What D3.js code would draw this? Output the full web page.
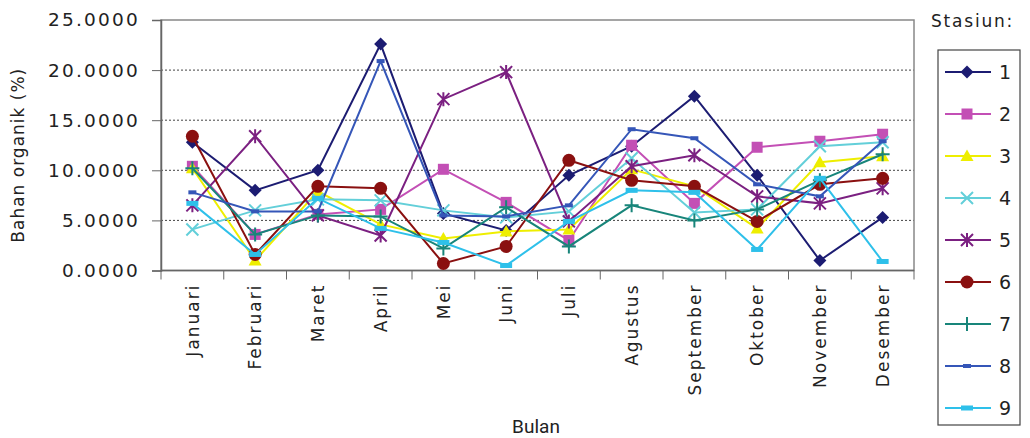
<!DOCTYPE html>
<html>
<head>
<meta charset="utf-8">
<script src="https://cdn.jsdelivr.net/npm/d3@7"></script>
<style>
  body { margin: 0; background: #fff; }
  text { font-family: "DejaVu Sans", sans-serif; fill: #222; }
</style>
</head>
<body>
<div id="chart"></div>
<script>
// data
const months = ["Januari", "Februari", "Maret", "April", "Mei", "Juni", "Juli",
  "Agustus", "September", "Oktober", "November", "Desember"];
const stations = ["1", "2", "3", "4", "5", "6", "7", "8", "9"];
const yTicks = [0, 5, 10, 15, 20, 25];

const s1 = [12.8, 8.0, 10.0, 22.6, 5.7, 4.0, 9.5, 12.4, 17.4, 9.5, 1.0, 5.3];
const s2 = [10.4, 3.6, 5.6, 6.1, 10.1, 6.8, 3.0, 12.5, 6.7, 12.3, 12.9, 13.6];
const s3 = [10.2, 1.0, 7.9, 4.6, 3.2, 3.9, 4.1, 10.1, 8.4, 4.2, 10.8, 11.4];
const s4 = [4.1, 6.0, 7.1, 7.0, 6.0, 5.3, 5.9, 11.2, 5.8, 6.1, 12.4, 12.8];
const s5 = [6.5, 13.4, 5.5, 3.5, 17.1, 19.8, 4.9, 10.4, 11.5, 7.4, 6.7, 8.2];
const s6 = [13.4, 1.6, 8.4, 8.2, 0.7, 2.4, 11.0, 9.0, 8.4, 4.9, 8.6, 9.2];
const s7 = [10.2, 3.6, 5.5, 5.4, 2.2, 6.3, 2.4, 6.5, 5.0, 6.1, 9.0, 11.6];
const s8 = [7.8, 5.9, 5.9, 20.9, 5.5, 5.4, 6.5, 14.1, 13.2, 8.6, 7.4, 12.9];
const s9 = [6.7, 1.6, 7.2, 4.2, 2.8, 0.5, 4.9, 8.0, 7.8, 2.1, 9.2, 0.9];
const seriesValues = [s1, s2, s3, s4, s5, s6, s7, s8, s9];

const colors = ["#1c1c72", "#c34fb5", "#eeee00", "#63cfd9", "#7b2081",
  "#8a1010", "#18857a", "#3556b8", "#2ec0ea"];
const shapes = ["diamond", "square", "triangle", "x", "asterisk",
  "circle", "plus", "dash", "wide"];

const width = 1030, height = 438;
const margin = { top: 20, right: 116, bottom: 168, left: 161 };

const svg = d3.select("#chart").append("svg")
  .attr("width", width).attr("height", height);

const x = d3.scaleBand()
  .domain(months)
  .range([margin.left, width - margin.right]);

const y = d3.scaleLinear()
  .domain([0, 25])
  .range([height - margin.bottom + 0.5, margin.top]);

// grid
svg.append("g")
  .selectAll("line")
  .data(yTicks.filter(d => d > 0 && d < 25))
  .join("line")
  .attr("x1", margin.left).attr("x2", width - margin.right)
  .attr("y1", d => y(d)).attr("y2", d => y(d))
  .attr("stroke", "#444").attr("stroke-width", 1)
  .attr("stroke-dasharray", "2,2");

// plot border
svg.append("rect")
  .attr("x", margin.left).attr("y", y(25))
  .attr("width", width - margin.right - margin.left)
  .attr("height", y(0) - y(25))
  .attr("fill", "none").attr("stroke", "#888").attr("stroke-width", 1.5);

// y axis
const yAxis = svg.append("g")
  .attr("transform", `translate(${margin.left},0)`)
  .call(d3.axisLeft(y).tickValues(yTicks).tickFormat(d3.format(".4f")).tickSize(9).tickPadding(12));
yAxis.select(".domain").attr("stroke", "#666").attr("stroke-width", 1.5);
yAxis.selectAll(".tick line").attr("stroke", "#666");
yAxis.selectAll("text")
  .style("font-size", "18.5px").style("letter-spacing", "2.2px")
  .attr("fill", "#222");

// x axis: ticks at category boundaries
const xAxis = svg.append("g")
  .attr("transform", `translate(0,${y(0)})`);
xAxis.append("line")
  .attr("x1", margin.left).attr("x2", width - margin.right)
  .attr("stroke", "#666").attr("stroke-width", 1.5);
xAxis.selectAll(".bt")
  .data(months.concat(["end"]))
  .join("line")
  .attr("class", "bt")
  .attr("x1", (d, i) => i < months.length ? x(d) : x.range()[1])
  .attr("x2", (d, i) => i < months.length ? x(d) : x.range()[1])
  .attr("y1", 0).attr("y2", 9)
  .attr("stroke", "#666");
xAxis.selectAll(".ml")
  .data(months)
  .join("text")
  .attr("class", "ml")
  .attr("transform", d => `translate(${x(d) + x.bandwidth() / 2},13) rotate(-90)`)
  .attr("text-anchor", "end")
  .attr("dy", "0.36em")
  .style("font-size", "17px").style("letter-spacing", "2px")
  .text(d => d);

// axis titles
svg.append("text")
  .attr("transform", `translate(24,${(y(0) + y(25)) / 2 + 10}) rotate(-90)`)
  .attr("text-anchor", "middle")
  .style("font-size", "17px").style("letter-spacing", "1px")
  .text("Bahan organik (%)");

svg.append("text")
  .attr("x", 536).attr("y", 433)
  .attr("text-anchor", "middle")
  .style("font-family", "'Liberation Sans Narrow', 'Roboto', sans-serif")
  .style("font-size", "19px")
  .text("Bulan");

// marker drawing
function marker(g, shape, color) {
  if (shape === "diamond") {
    g.append("path").attr("d", "M0,-6.5L6.5,0L0,6.5L-6.5,0Z").attr("fill", color);
  } else if (shape === "square") {
    g.append("rect").attr("x", -5.5).attr("y", -5.5).attr("width", 11).attr("height", 11).attr("fill", color);
  } else if (shape === "triangle") {
    g.append("path").attr("d", "M0,-6.5L6.5,5L-6.5,5Z").attr("fill", color);
  } else if (shape === "x") {
    g.append("path").attr("d", "M-6,-6L6,6M-6,6L6,-6").attr("stroke", color).attr("stroke-width", 2);
  } else if (shape === "asterisk") {
    g.append("path").attr("d", "M-6,-6L6,6M-6,6L6,-6M0,-7L0,7").attr("stroke", color).attr("stroke-width", 2);
  } else if (shape === "circle") {
    g.append("circle").attr("r", 6.5).attr("fill", color);
  } else if (shape === "plus") {
    g.append("path").attr("d", "M-7,0L7,0M0,-7L0,7").attr("stroke", color).attr("stroke-width", 2);
  } else if (shape === "dash") {
    g.append("rect").attr("x", -4).attr("y", -2).attr("width", 8).attr("height", 4).attr("fill", color);
  } else {
    g.append("rect").attr("x", -6).attr("y", -2.5).attr("width", 12).attr("height", 5).attr("fill", color);
  }
}

const line = d3.line()
  .x((d, i) => x(months[i]) + x.bandwidth() / 2)
  .y(d => y(d));

seriesValues.forEach((vals, si) => {
  const g = svg.append("g");
  g.append("path")
    .datum(vals)
    .attr("d", line)
    .attr("fill", "none")
    .attr("stroke", colors[si])
    .attr("stroke-width", 2);
  g.selectAll("g")
    .data(vals)
    .join("g")
    .attr("transform", (d, i) => `translate(${x(months[i]) + x.bandwidth() / 2},${y(d)})`)
    .each(function () { marker(d3.select(this), shapes[si], colors[si]); });
});

// legend
svg.append("text")
  .attr("x", 931).attr("y", 27)
  .style("font-size", "17px").style("letter-spacing", "1.8px")
  .text("Stasiun:");

svg.append("rect")
  .attr("x", 938).attr("y", 50).attr("width", 82).attr("height", 375)
  .attr("fill", "#fff").attr("stroke", "#444").attr("stroke-width", 1.2);

const leg = svg.append("g").selectAll("g")
  .data(stations)
  .join("g")
  .attr("transform", (d, i) => `translate(0,${72 + i * 42})`);
leg.append("line")
  .attr("x1", 945).attr("x2", 991)
  .attr("stroke", (d, i) => colors[i]).attr("stroke-width", 2);
leg.each(function (d, i) {
  const m = d3.select(this).append("g").attr("transform", "translate(967,0)");
  marker(m, shapes[i], colors[i]);
});
leg.append("text")
  .attr("x", 999).attr("dy", "0.36em")
  .style("font-size", "19px")
  .text(d => d);
</script>
</body>
</html>
